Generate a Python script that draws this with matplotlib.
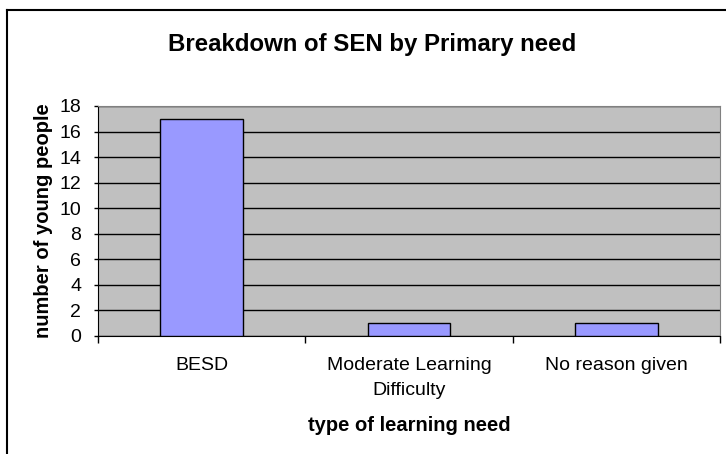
import matplotlib.pyplot as plt
from matplotlib.lines import Line2D

categories = ['BESD', 'Moderate Learning\nDifficulty', 'No reason given']
counts = [17, 1, 1]
y_ticks = list(range(0, 20, 2))

plt.rcParams['font.family'] = ['Liberation Sans', 'DejaVu Sans']

fig = plt.figure(figsize=(7.26, 4.54), dpi=100)
W, H = 726, 454
ax = fig.add_axes([98 / W, 1 - 336 / H, (720 - 98) / W, (336 - 106) / H])
ax.set_facecolor('#C0C0C0')

x = range(len(categories))
ax.bar(x, counts, width=0.4, color='#9999FF', edgecolor='black', linewidth=1, zorder=3)

ax.set_xlim(-0.5, len(categories) - 0.5)
ax.set_ylim(0, 18)
ax.set_yticks(y_ticks)
ax.set_xticks([i - 0.5 for i in range(len(categories) + 1)], minor=False)
ax.set_xticklabels([])
ax.set_xticks(list(x), minor=True)
ax.set_xticklabels(categories, minor=True, fontsize=14, linespacing=1.65)
ax.tick_params(axis='x', which='minor', length=0, pad=15)
ax.tick_params(axis='x', which='major', length=5, direction='out', width=1)
ax.tick_params(axis='y', length=3, direction='out', width=1, labelsize=14, pad=9)

ax.grid(axis='y', color='black', linewidth=1, zorder=1)
ax.set_axisbelow(True)
for side in ['top', 'right']:
    ax.spines[side].set_color('#808080')
ax.spines['left'].set_color('black')
ax.spines['bottom'].set_color('black')

ax.set_ylabel('number of young people', fontsize=14.5, fontweight='bold', labelpad=5)
ax.set_xlabel('type of learning need', fontsize=14.5, fontweight='bold', labelpad=12)
fig.text(372 / W, 1 - 45 / H, 'Breakdown of SEN by Primary need', fontsize=17.3,
         fontweight='bold', ha='center', va='center')

# chart border (left and top visible)
fig.add_artist(Line2D([7 / W, 7 / W], [0, 1 - 9.5 / H], color='black', linewidth=1.5,
                      transform=fig.transFigure))
fig.add_artist(Line2D([7 / W, 1], [1 - 9.5 / H, 1 - 9.5 / H], color='black', linewidth=1.5,
                      transform=fig.transFigure))

fig.savefig('out.png', dpi=100)
